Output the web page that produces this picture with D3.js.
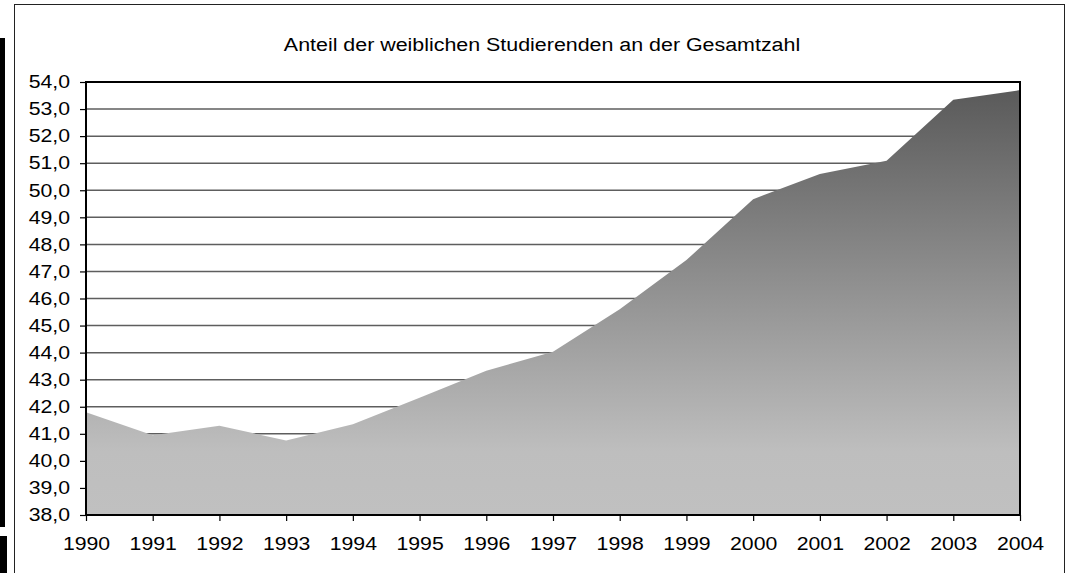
<!DOCTYPE html>
<html>
<head>
<meta charset="utf-8">
<script src="https://cdn.jsdelivr.net/npm/d3@7"></script>
<style>
	body { margin: 0; background: #fff; }
	svg { display: block; font-family: "Liberation Sans", Arial, sans-serif; }
</style>
</head>
<body>
<svg id="svg_chart"></svg>
<script>
// data
var arr_years = [1990, 1991, 1992, 1993, 1994, 1995, 1996, 1997, 1998, 1999, 2000, 2001, 2002, 2003, 2004];
var arr_share = [41.8, 40.95, 41.3, 40.75, 41.35, 42.33, 43.33, 44.03, 45.6, 47.42, 49.67, 50.6, 51.09, 53.34, 53.7];
var arr_y_ticks = [38, 39, 40, 41, 42, 43, 44, 45, 46, 47, 48, 49, 50, 51, 52, 53, 54];
var str_title = "Anteil der weiblichen Studierenden an der Gesamtzahl";

var width = 1067;
var height = 573;
var margin = {top: 82, right: 47, bottom: 58, left: 86};

// the original picture is stretched sideways, so the text is too
var text_stretch = 1.18;

var svg = d3.select("svg#svg_chart")
    .attr("width", width)
    .attr("height", height);

// left black bars (page edge)
svg.append("rect")
    .attr("x", 0).attr("y", 38)
    .attr("width", 5).attr("height", 489)
    .attr("fill", "#000");
svg.append("rect")
    .attr("x", 0).attr("y", 536)
    .attr("width", 7).attr("height", 40)
    .attr("fill", "#000");

// outer chart frame
svg.append("rect")
    .attr("x", 14.5).attr("y", 4.5)
    .attr("width", 1050).attr("height", 600)
    .attr("fill", "none")
    .attr("stroke", "#222")
    .attr("stroke-width", 1);

var x = d3.scaleLinear()
    .domain([1990, 2004])
    .range([margin.left, width - margin.right]);

var y = d3.scaleLinear()
    .domain([38, 54])
    .range([height - margin.bottom, margin.top]);

// gradient for the area
var defs = svg.append("defs");
var grad = defs.append("linearGradient")
    .attr("id", "grad_area")
    .attr("gradientUnits", "userSpaceOnUse")
    .attr("x1", 0).attr("x2", 0)
    .attr("y1", y(d3.max(arr_share))).attr("y2", y(38));
grad.append("stop").attr("offset", 0).attr("stop-color", "#5a5a5a");
grad.append("stop").attr("offset", 0.85).attr("stop-color", "#bebebe");
grad.append("stop").attr("offset", 1).attr("stop-color", "#c0c0c0");

// gridlines, behind the area
svg.append("g")
    .attr("class", "grid")
    .selectAll("line")
    .data(arr_y_ticks.slice(1, -1))
    .enter().append("line")
    .attr("x1", margin.left).attr("x2", width - margin.right)
    .attr("y1", function(d) { return y(d); })
    .attr("y2", function(d) { return y(d); })
    .attr("stroke", "#5e5e5e")
    .attr("stroke-width", 1.5);

var area = d3.area()
    .x(function(d, i) { return x(arr_years[i]); })
    .y0(y(38))
    .y1(function(d) { return y(d); });

svg.append("path")
    .datum(arr_share)
    .attr("d", area)
    .attr("fill", "url(#grad_area)");

// plot border
svg.append("rect")
    .attr("x", margin.left).attr("y", margin.top)
    .attr("width", width - margin.right - margin.left)
    .attr("height", height - margin.bottom - margin.top)
    .attr("fill", "none")
    .attr("stroke", "#000")
    .attr("stroke-width", 2);

// y axis
var g_y = svg.append("g")
    .attr("transform", "translate(" + margin.left + ",0)")
    .call(d3.axisLeft(y)
        .tickValues(arr_y_ticks)
        .tickSize(6)
        .tickPadding(7.6)
        .tickFormat(function(d) { return d3.format(".1f")(d).replace(".", ","); }));

// x axis
var g_x = svg.append("g")
    .attr("transform", "translate(0," + (height - margin.bottom) + ")")
    .call(d3.axisBottom(x)
        .tickValues(arr_years)
        .tickSize(6)
        .tickPadding(16)
        .tickFormat(d3.format("d")));

[g_y, g_x].forEach(function(g) {
	g.select(".domain").remove();
	g.selectAll(".tick line").attr("stroke", "#000").attr("stroke-width", 1.2);
	g.selectAll("text")
	    .attr("fill", "#000")
	    .attr("transform", "scale(" + text_stretch + ",1)")
	    .style("font-family", "'Liberation Sans', Arial, sans-serif")
	    .style("font-size", "18px");
});

// title
svg.append("g")
    .attr("transform", "translate(542,51) scale(" + (text_stretch + 0.01) + ",1)")
  .append("text")
    .attr("text-anchor", "middle")
    .attr("fill", "#000")
    .style("font-size", "18px")
    .text(str_title);
</script>
</body>
</html>
